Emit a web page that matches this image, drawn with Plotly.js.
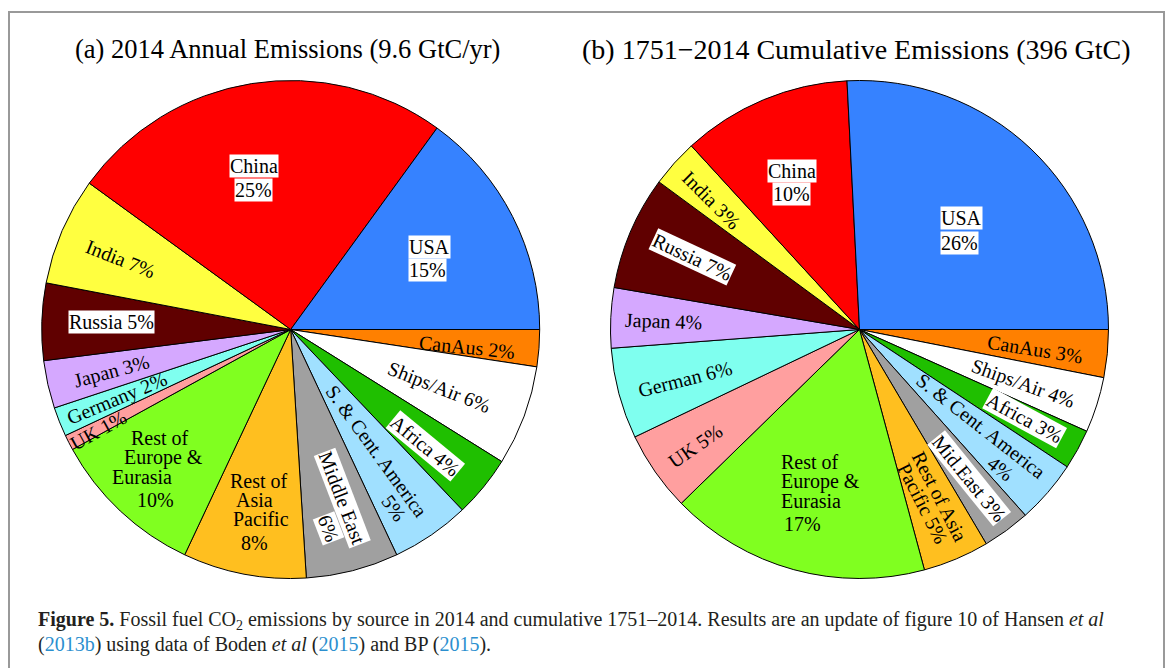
<!DOCTYPE html>
<html>
<head>
<meta charset="utf-8">
<script src="https://cdn.plot.ly/plotly-3.0.1.min.js"></script>
<style>
html,body{margin:0;padding:0;background:#fff;}
#chart{width:1166px;height:668px;}
</style>
</head>
<body>
<div id="chart"></div>
<script>
// ---------- DATA ----------
const categories = ['CanAus','Ships/Air','Africa','S. & Cent. America','Middle East',
  'Rest of Asia Pacific','Rest of Europe & Eurasia','UK','Germany','Japan','Russia','India','China','USA'];
// shares (%)
const annual2014 = [2.4, 6.5, 4.0, 5.1, 6.0, 8.0, 10.0, 1.0, 1.9, 3.1, 5.0, 7.0, 25.0, 15.0];
const cumulative1751 = [3.1, 3.6, 2.6, 4.1, 3.1, 4.3, 16.9, 5.2, 5.9, 3.9, 7.4, 3.1, 11.0, 25.8];
const sliceColors = ['#FF8000','#FFFFFF','#1FBF00','#A0E0FF','#A0A0A0','#FFBF1F','#80FF20',
  '#FF9F9F','#7FFFEF','#D5A8FF','#600000','#FFFF40','#FF0000','#3682FF'];
// label texts
const annualLabels = [['CanAus 2%'],['Ships/Air 6%'],['Africa 4%'],['S. & Cent. America','5%'],
  ['Middle East','6%'],['Rest of','Asia','Pacific','8%'],['Rest of','Europe &','Eurasia','10%'],
  ['UK 1%'],['Germany 2%'],['Japan 3%'],['Russia 5%'],['India 7%'],['China','25%'],['USA','15%']];
const cumulativeLabels = [['CanAus 3%'],['Ships/Air 4%'],['Africa 3%'],['S. & Cent. America','4%'],
  ['Mid.East 3%'],['Rest of Asia','Pacific 5%'],['Rest of','Europe &','Eurasia','17%'],
  ['UK 5%'],['German 6%'],['Japan 4%'],['Russia 7%'],['India 3%'],['China','10%'],['USA','26%']];
const titleA = '(a) 2014 Annual Emissions (9.6 GtC/yr)';
const titleB = '(b) 1751\u22122014 Cumulative Emissions (396 GtC)';

// ---------- LAYOUT / STYLE ----------
const W = 1166, H = 668;
const pieA = {cx: 290.7, cy: 329.5, R: 249};
const pieB = {cx: 859.5, cy: 329.5, R: 249};
const ROT = 90;
// label placement: r = fraction of radius, da = angle nudge from slice middle, t = text angle,
// bg = white box, offs = per-line [along, across] offsets in the text frame (px)
const layoutA = [
  {r:.71, da:1.4, t:5.7}, {r:.64, da:.9, t:21.5}, {r:.715, da:1.5, t:39.5, bg:true},
  {r:.712, da:2.1, t:54, offs:[[-28,-9.5],[28,9.5]]},
  {r:.758, da:.7, t:69, bg:true, offs:[[-11.75,-12.2],[11.75,12.2]]},
  {r:.745, da:-.6, t:0, offs:[[1.5,-31.3],[-3,-12.3],[3.3,7],[-3,31]]},
  {r:.779, da:1.2, t:0, offs:[[5,-30],[8.6,-10.7],[-12.6,8.7],[0.4,31.7]]},
  {r:.87, da:-.6, t:-29}, {r:.75, da:.1, t:-22.6}, {r:.74, da:-.5, t:-15},
  {r:.72, da:.5, t:0, bg:true}, {r:.738, da:-1, t:21.5},
  {r:.628, da:-4.6, t:0, bg:true, offs:[[0,-12],[0,12]]},
  {r:.623, da:-.3, t:0, bg:true, offs:[[0.7,-11.8],[-0.7,11.8]]}
];
const layoutB = [
  {r:.708, da:.8, t:9}, {r:.69, da:.56, t:20}, {r:.752, da:-.5, t:28.3, bg:true},
  {r:.71, da:1.1, t:38, offs:[[-21,-10.65],[21,10.65]]},
  {r:.741, da:-.1, t:51, bg:true},
  {r:.747, da:0, t:63, offs:[[0,-9.5],[-2,9.5]]},
  {r:.682, da:1.6, t:0, offs:[[-0.2,-30.3],[10.2,-10.3],[0.5,8.7],[-7.7,32]]},
  {r:.808, da:-.4, t:-35}, {r:.728, da:-.9, t:-14}, {r:.786, da:-.5, t:2},
  {r:.731, da:.56, t:25, bg:true}, {r:.79, da:-.8, t:45},
  {r:.65, da:-2, t:0, bg:true, offs:[[0,-11.8],[0,11.8]]},
  {r:.568, da:2, t:0, bg:true, offs:[[0.9,-12.2],[-0.9,12.2]]}
];
const FONT = 'Liberation Serif, Times New Roman, serif';

function domainOf(p){
  return {x:[(p.cx-p.R)/W,(p.cx+p.R)/W], y:[1-(p.cy+p.R)/H, 1-(p.cy-p.R)/H]};
}
function pieTrace(vals, p){
  return {type:'pie', values:vals, labels:categories, sort:false, direction:'clockwise',
    rotation:ROT, domain:domainOf(p), marker:{colors:sliceColors, line:{color:'#000', width:1}},
    textinfo:'none', textposition:'none', hoverinfo:'label+percent', showlegend:false};
}
function labelAnns(vals, p, texts, lay){
  const total = vals.reduce((a,b)=>a+b,0);
  let cum = 0; const out = [];
  vals.forEach((v,i)=>{
    const mid = ROT + 360*(cum + v/2)/total; cum += v;
    const L = lay[i], ang = (mid + L.da)*Math.PI/180;
    const px = p.cx + L.r*p.R*Math.sin(ang), py = p.cy - L.r*p.R*Math.cos(ang);
    const t = L.t*Math.PI/180;
    texts[i].forEach((line,j)=>{
      const o = (L.offs && L.offs[j]) || [0,0];
      const x = px + o[0]*Math.cos(t) - o[1]*Math.sin(t);
      const y = py + o[0]*Math.sin(t) + o[1]*Math.cos(t);
      out.push({text:line, x:x/W, y:1-y/H, xref:'paper', yref:'paper', xanchor:'center',
        yanchor:'middle', showarrow:false, textangle:L.t,
        bgcolor: L.bg ? '#ffffff' : 'rgba(0,0,0,0)', borderpad:0,
        font:{family:FONT, size:20, color:'#000'}});
    });
  });
  return out;
}

const link = s => '<span style="color:#2B8FCF">'+s+'</span>';
const caption1 = '<b>Figure 5.</b> Fossil fuel CO<sub>2</sub> emissions by source in 2014 and cumulative 1751\u20132014. Results are an update of figure 10 of Hansen <i>et al</i>';
const caption2 = '('+link('2013b')+') using data of Boden <i>et al</i> ('+link('2015')+') and BP ('+link('2015')+').';

const annotations = [
  ...labelAnns(annual2014, pieA, annualLabels, layoutA),
  ...labelAnns(cumulative1751, pieB, cumulativeLabels, layoutB),
  {text:titleA, x:287/W, y:1-49/H, xref:'paper', yref:'paper', xanchor:'center', yanchor:'middle',
    showarrow:false, font:{family:FONT, size:26.5, color:'#000'}},
  {text:titleB, x:856/W, y:1-49/H, xref:'paper', yref:'paper', xanchor:'center', yanchor:'middle',
    showarrow:false, font:{family:FONT, size:28, color:'#000'}},
  {text:caption1, x:36/W, y:1-620/H, xref:'paper', yref:'paper', xanchor:'left', yanchor:'middle',
    showarrow:false, font:{family:FONT, size:20, color:'#231F20'}},
  {text:caption2, x:36/W, y:1-644/H, xref:'paper', yref:'paper', xanchor:'left', yanchor:'middle',
    showarrow:false, font:{family:FONT, size:20, color:'#231F20'}}
];

const layout = {
  width:W, height:H, margin:{l:0,r:0,t:0,b:0}, paper_bgcolor:'#fff', plot_bgcolor:'#fff',
  showlegend:false, annotations:annotations,
  shapes:[{type:'rect', xref:'paper', yref:'paper', x0:9/W, x1:1164/W, y0:-0.1, y1:1-12/H,
    line:{color:'#999999', width:2}, fillcolor:'rgba(0,0,0,0)', layer:'below'}]
};
Plotly.newPlot('chart', [pieTrace(annual2014, pieA), pieTrace(cumulative1751, pieB)], layout,
  {displayModeBar:false, staticPlot:true});
</script>
</body>
</html>
